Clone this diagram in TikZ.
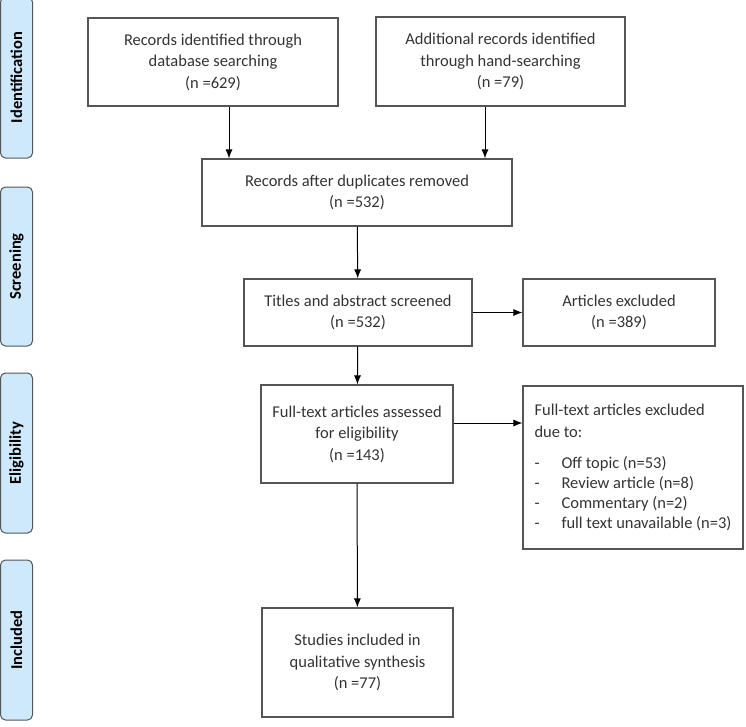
\documentclass[tikz,border=0pt]{standalone}
\usepackage{fontspec}
\setmainfont{Carlito}
\usetikzlibrary{arrows.meta}

\definecolor{stagefill}{HTML}{CDE9FB}
\definecolor{linegray}{HTML}{555555}

\tikzset{
  box/.style={draw=linegray, line width=1.1pt, rectangle, align=center,
    font=\fontsize{16.5}{21.5}\selectfont, text=black!80, inner sep=4pt},
  stage/.style={draw=linegray, fill=stagefill, line width=1pt, rounded corners=5pt,
    rotate=90, minimum height=32, font=\bfseries\fontsize{16.5}{18}\selectfont, inner sep=0pt},
  arr/.style={-{Latex[length=9pt,width=7pt]}, line width=1pt, black}
}

\begin{document}
\begin{tikzpicture}[x=1pt, y=-1pt]
			\useasboundingbox (0,0) rectangle (746,726);
			% stages on the left
			\node[stage, minimum width=161] (ident) at (16.5,77.5) {Identification};
			\node[stage, minimum width=159] (screen) at (16.5,266.5) {Screening};
			\node[stage, minimum width=160] (elig) at (16.5,453) {Eligibility};
			\node[stage, minimum width=160] (incl) at (16.5,640) {Included};
			% flow boxes
			\node[box, minimum width=250, minimum height=88] (db) at (213,62) {Records identified through\\database searching\\(n =629)};
			\node[box, minimum width=249, minimum height=89] (hand) at (500.5,61.5) {Additional records identified\\through hand-searching\\(n =79)};
			\node[box, minimum width=310, minimum height=67] (dup) at (357,192.5) {Records after duplicates removed\\(n =532)};
			\node[box, minimum width=228, minimum height=67] (title) at (358,312.5) {Titles and abstract screened\\(n =532)};
			\node[box, minimum width=192, minimum height=67] (excl) at (619,312.5) {Articles excluded\\(n =389)};
			\node[box, minimum width=192, minimum height=98] (full) at (357,434) {Full-text articles assessed\\for eligibility\\(n =143)};
			\node[box, minimum width=220, minimum height=163, align=left] (ftex) at (633,467.5) {Full-text articles excluded\\due to:\\[10pt]
				\makebox[27pt][l]{-}Off topic (n=53)\\[-1.5pt]
				\makebox[27pt][l]{-}Review article (n=8)\\[-1.5pt]
				\makebox[27pt][l]{-}Commentary (n=2)\\[-1.5pt]
				\makebox[27pt][l]{-}full text unavailable (n=3)};
			\node[box, minimum width=191, minimum height=109] (synth) at (357.5,662.5) {Studies included in\\qualitative synthesis\\(n =77)};
			% connectors
			\draw[arr] ([xshift=16]db.south) -- ([xshift=16]db.south |- dup.north);
			\draw[arr] ([xshift=-15.5]hand.south) -- ([xshift=-15.5]hand.south |- dup.north);
			\draw[arr] (dup) -- (title);
			\draw[arr] (title) -- (excl);
			\draw[arr] (title) -- (full);
			\draw[arr] ([yshift=11]full.east) -- ([yshift=11]full.east -| ftex.west);
			\draw[arr] (full) -- (synth);
		\end{tikzpicture}
\end{document}
